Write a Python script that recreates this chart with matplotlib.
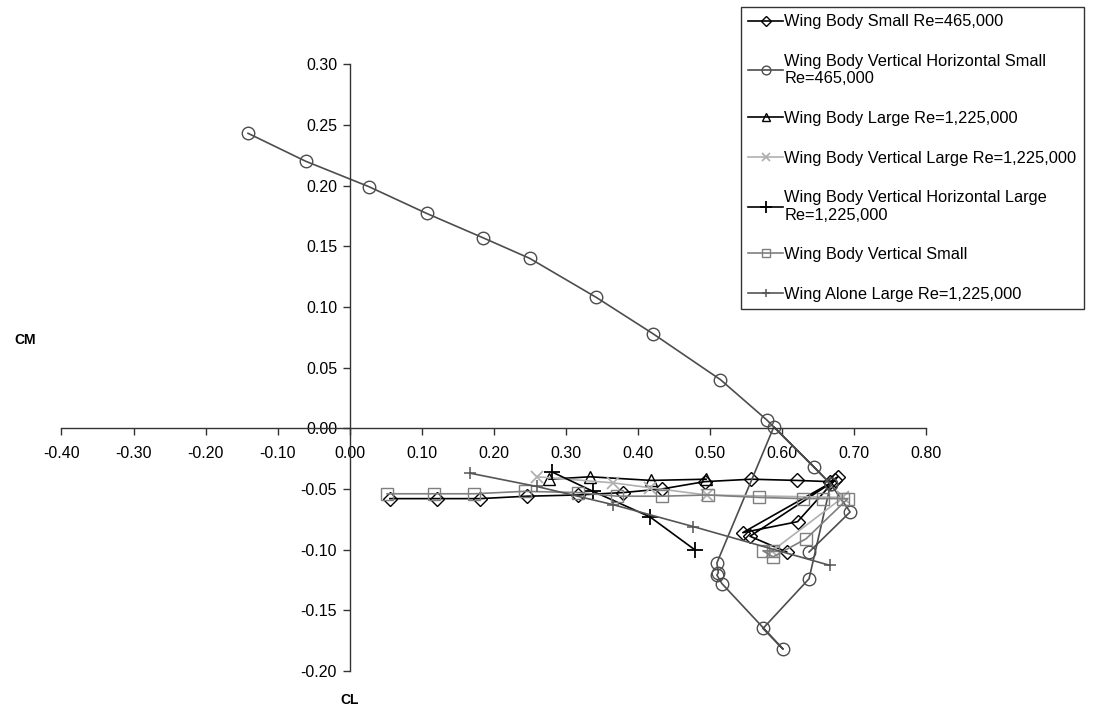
import matplotlib

matplotlib.use("Agg")
import matplotlib.pyplot as plt

plt.rcParams["font.family"] = ["Liberation Sans", "DejaVu Sans"]

# Pitching moment vs lift coefficient, one series per configuration.
wbs_cl = [0.056, 0.121, 0.181, 0.246, 0.317, 0.380, 0.434, 0.493, 0.558,
          0.621, 0.667, 0.678, 0.622, 0.546, 0.674, 0.556, 0.607]
wbs_cm = [-0.058, -0.058, -0.058, -0.056, -0.055, -0.053, -0.050, -0.044, -0.042,
          -0.043, -0.044, -0.040, -0.077, -0.086, -0.043, -0.089, -0.102]

wbvhs_cl = [-0.141, -0.061, 0.027, 0.107, 0.185, 0.250, 0.342, 0.421, 0.515,
            0.579, 0.645, 0.668, 0.638, 0.574, 0.602, 0.517, 0.510, 0.512,
            0.510, 0.589, 0.668, 0.695, 0.638]
wbvhs_cm = [0.243, 0.220, 0.199, 0.177, 0.157, 0.140, 0.108, 0.078, 0.040,
            0.007, -0.032, -0.046, -0.124, -0.165, -0.182, -0.128, -0.121, -0.119,
            -0.111, 0.001, -0.046, -0.069, -0.102]

wbl_cl = [0.277, 0.334, 0.419, 0.495]
wbl_cm = [-0.042, -0.040, -0.043, -0.042]

wbvl_cl = [0.260, 0.366, 0.417, 0.496, 0.685, 0.587]
wbvl_cm = [-0.040, -0.045, -0.049, -0.055, -0.057, -0.101]

wbvhl_cl = [0.281, 0.338, 0.417, 0.479]
wbvhl_cm = [-0.036, -0.052, -0.073, -0.100]

wbvs_cl = [0.052, 0.117, 0.173, 0.243, 0.317, 0.372, 0.434, 0.497, 0.568,
           0.629, 0.657, 0.685, 0.692, 0.634, 0.588, 0.574, 0.588]
wbvs_cm = [-0.054, -0.054, -0.054, -0.052, -0.053, -0.056, -0.056, -0.055, -0.057,
           -0.058, -0.058, -0.058, -0.058, -0.091, -0.106, -0.101, -0.101]

wal_cl = [0.167, 0.260, 0.366, 0.477, 0.667]
wal_cm = [-0.037, -0.048, -0.063, -0.081, -0.113]

labels = [
    "Wing Body Small Re=465,000",
    "Wing Body Vertical Horizontal Small\nRe=465,000",
    "Wing Body Large Re=1,225,000",
    "Wing Body Vertical Large Re=1,225,000",
    "Wing Body Vertical Horizontal Large\nRe=1,225,000",
    "Wing Body Vertical Small",
    "Wing Alone Large Re=1,225,000",
]

x_ticks = [i / 100 for i in range(-40, 81, 10)]
y_ticks = [i / 100 for i in range(-20, 31, 5)]

fig = plt.figure(figsize=(10.94, 7.19), dpi=100)
ax = fig.add_axes([0.0562, 0.0668, 0.790, 0.844])

series = [
    (wbs_cl, wbs_cm, dict(color="black", marker="D", ms=7.5)),
    (wbvhs_cl, wbvhs_cm, dict(color="#4d4d4d", marker="o", ms=9)),
    (wbl_cl, wbl_cm, dict(color="black", marker="^", ms=9)),
    (wbvl_cl, wbvl_cm, dict(color="#b0b0b0", marker="x", ms=9, mew=1.3)),
    (wbvhl_cl, wbvhl_cm, dict(color="black", marker="+", ms=12, mew=1.3)),
    (wbvs_cl, wbvs_cm, dict(color="#7f7f7f", marker="s", ms=8)),
    (wal_cl, wal_cm, dict(color="#555555", marker="+", ms=9, mew=1.1)),
]
for (cl, cm, st), lab in zip(series, labels):
    ax.plot(cl, cm, lw=1.2, mfc="none", label=lab, **st)

ax.set_xlim(-0.40, 0.80)
ax.set_ylim(-0.20, 0.30)
ax.set_xticks(x_ticks)
ax.set_yticks(y_ticks)
ax.set_xticklabels([f"{v:.2f}" for v in x_ticks])
ax.set_yticklabels([f"{v:.2f}" for v in y_ticks])

# axes cross at the origin
ax.spines["left"].set_position(("data", 0))
ax.spines["bottom"].set_position(("data", 0))
ax.spines["top"].set_visible(False)
ax.spines["right"].set_visible(False)
for s in ("left", "bottom"):
    ax.spines[s].set_color("#333333")
    ax.spines[s].set_linewidth(1.0)
ax.tick_params(axis="x", direction="out", length=5, width=1, color="#333333",
               labelsize=11.5, pad=8)
ax.tick_params(axis="y", direction="out", length=5, width=1, color="#333333",
               labelsize=11.5, pad=4)

fig.text(25 / 1094, 1 - 340 / 719, "CM", fontsize=10, fontweight="bold",
         ha="center", va="center")
fig.text(350 / 1094, 1 - 700 / 719, "CL", fontsize=10, fontweight="bold",
         ha="center", va="center")

leg = ax.legend(loc="upper left", bbox_to_anchor=(741 / 1094, 1 - 7 / 719),
                bbox_transform=fig.transFigure, fontsize=11.8, frameon=True,
                fancybox=False, edgecolor="#333333", framealpha=1,
                handlelength=2.1, handletextpad=0.1, labelspacing=1.5,
                borderpad=0.45, borderaxespad=0, markerscale=0.7)
leg.get_frame().set_linewidth(1.0)

fig.savefig("out.png", dpi=100)
